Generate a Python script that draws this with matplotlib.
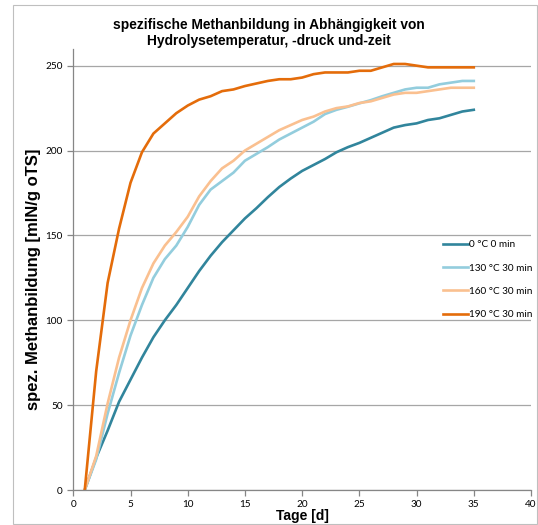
import numpy as np
import matplotlib.pyplot as plt
from matplotlib.patches import Rectangle

# Data
days = np.arange(1, 36)
m_0 = [0, 19, 35, 52, 65, 78, 90, 100, 109, 119, 129, 138, 146, 153, 160, 166,
       172.5, 178.5, 183.5, 188, 191.5, 195, 199, 202, 204.5, 207.5, 210.5, 213.5,
       215, 216, 218, 219, 221, 223, 224]
m_130 = [0, 18, 45, 69, 91, 109, 125, 136, 144, 155, 168, 177, 182, 187, 194, 198,
         202, 206.5, 210, 213.5, 217, 221.5, 224, 225.8, 227.8, 229.7, 232, 234,
         236, 237, 237, 239, 240, 241, 241]
m_160 = [0, 20, 51, 78, 100, 119, 133.5, 144, 152, 161, 173, 182, 189.5, 194, 200,
         204, 208, 212, 215, 218, 220, 223, 225, 226, 228, 229, 231, 233, 234, 234,
         235, 236, 237, 237, 237]
m_190 = [0, 70, 122, 154, 181, 199, 210, 216, 222, 226.5, 230, 232, 235, 236, 238,
         239.5, 241, 242, 242, 243, 245, 246, 246, 246, 247, 247, 249, 251, 251, 250,
         249, 249, 249, 249, 249]

labels = ["0 °C 0 min", "130 °C 30 min", "160 °C 30 min", "190 °C 30 min"]
colors = ["#31859C", "#93CDDD", "#FAC090", "#E46C0A"]

fig = plt.figure(figsize=(5.38, 5.25), dpi=100)
fig.patches.append(Rectangle((13 / 538, 0.002), 1 - 14 / 538, 1 - 5 / 525 - 0.002,
                             transform=fig.transFigure, fill=False,
                             edgecolor="#BFBFBF", linewidth=0.8))

ax = fig.add_axes([73.3 / 538, 1 - 490 / 525, (531 - 73.3) / 538, (490 - 48.7) / 525])

for y, lab, c in zip([m_0, m_130, m_160, m_190], labels, colors):
    ax.plot(days, y, color=c, linewidth=1.9, label=lab)

ax.set_xlim(0, 40)
ax.set_ylim(0, 260)
ax.set_xticks(range(0, 41, 5))
ax.set_yticks(range(0, 251, 50))
ax.yaxis.grid(True, color="#A6A6A6", linewidth=0.9)
ax.set_axisbelow(True)

for s in ["top", "right"]:
    ax.spines[s].set_visible(False)
for s in ["left", "bottom"]:
    ax.spines[s].set_color("#868686")
    ax.spines[s].set_linewidth(0.9)
ax.tick_params(axis="both", colors="#868686", length=4, width=0.9,
               labelcolor="black", labelsize=7.2)
for t in ax.get_xticklabels() + ax.get_yticklabels():
    t.set_fontfamily("Lato")

ax.set_xlabel("Tage [d]", fontsize=10, fontweight="bold",
              fontfamily="Liberation Sans", labelpad=0)
ax.set_ylabel("spez. Methanbildung [mlN/g oTS]", fontsize=12, fontweight="bold",
              fontfamily="Liberation Sans")
ax.yaxis.set_label_coords(-0.0706, 0.478)

fig.text(0.5, 1 - 33 / 525,
         "spezifische Methanbildung in Abhängigkeit von\nHydrolysetemperatur, -druck und-zeit",
         ha="center", va="center", fontsize=9.9, fontweight="bold",
         fontfamily="Liberation Sans", linespacing=1.25)

leg = ax.legend(loc="upper left", bbox_to_anchor=(0.799, 0.575), frameon=False,
                prop={"family": "Lato", "size": 7.2}, handlelength=2.5,
                handletextpad=0.1, labelspacing=1.43, borderaxespad=0)

fig.savefig("out.png", dpi=100)
